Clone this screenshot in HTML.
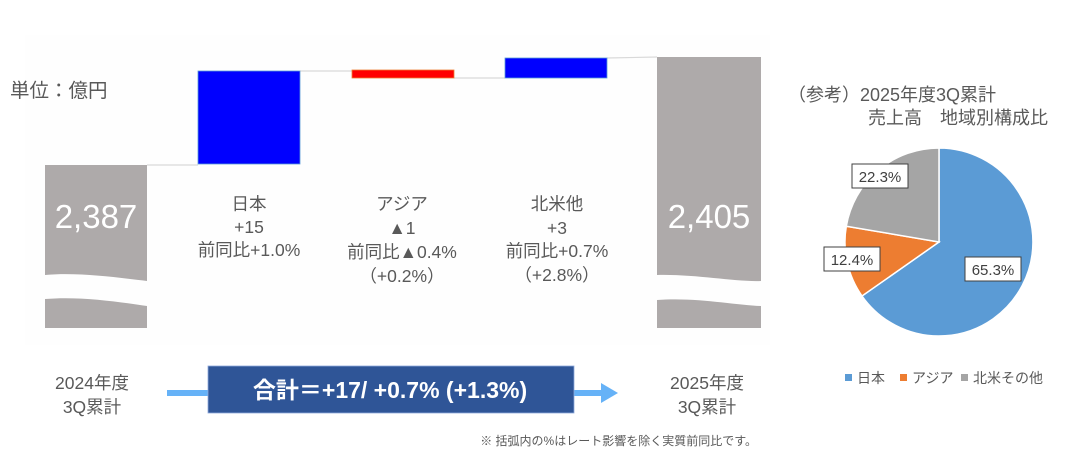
<!DOCTYPE html>
<html><head><meta charset="utf-8"><style>
body{margin:0;width:1080px;height:455px;background:#fff;overflow:hidden;}
svg text{font-family:"Liberation Sans","Noto Sans CJK JP",sans-serif;}
</style></head><body>
<svg width="1080" height="455" viewBox="0 0 1080 455">
<rect x="25" y="35" width="745" height="310" fill="#fefefe"/>
<g stroke="#d9d9d9" stroke-width="1.2">
<line x1="147" y1="165" x2="198" y2="165"/>
<line x1="300" y1="71" x2="352" y2="71"/>
<line x1="454" y1="78" x2="505" y2="78"/>
<line x1="607" y1="58" x2="657" y2="57"/>
</g>
<path d="M45 165 H147 V281 C120 278 80 272 45 275 Z" fill="#aeaaaa"/>
<path d="M45 299 C80 296 120 302 147 306 V328 H45 Z" fill="#aeaaaa"/>
<path d="M657 57 H761 V281 C735 282 695 274 657 275 Z" fill="#aeaaaa"/>
<path d="M657 300 C695 297 735 305 761 306 V328 H657 Z" fill="#aeaaaa"/>
<text x="96" y="228" font-size="33" fill="#fff" text-anchor="middle">2,387</text>
<text x="709" y="228" font-size="33" fill="#fff" text-anchor="middle">2,405</text>
<rect x="198" y="71" width="102" height="93" fill="#0000ff" stroke="#5b9bd5" stroke-width="0.8"/>
<rect x="352" y="70" width="102" height="8" fill="#ff0000" stroke="#ed7d31" stroke-width="0.8"/>
<rect x="505" y="58" width="102" height="20" fill="#0000ff" stroke="#5b9bd5" stroke-width="0.8"/>
<text x="10" y="97" font-size="19.5" fill="#595959">単位：億円</text>
<g font-size="17.5" fill="#595959" text-anchor="middle">
<text x="249" y="210">日本</text><text x="249" y="233">+15</text><text x="249" y="256">前同比+1.0%</text>
<text x="402" y="210">アジア</text><text x="402" y="234">▲1</text><text x="402" y="258">前同比▲0.4%</text><text x="402" y="282">（+0.2%）</text>
<text x="557" y="210">北米他</text><text x="557" y="234">+3</text><text x="557" y="257">前同比+0.7%</text><text x="557" y="281">（+2.8%）</text>
<text x="92" y="389">2024年度</text><text x="92" y="413">3Q累計</text>
<text x="707" y="389">2025年度</text><text x="707" y="413">3Q累計</text>
</g>
<rect x="167" y="390" width="42" height="6" fill="#66b2f7"/>
<rect x="573" y="390" width="30" height="6" fill="#66b2f7"/>
<polygon points="601,383 618,393 601,403" fill="#66b2f7"/>
<rect x="208" y="366" width="366" height="47" fill="#2f5597" stroke="#8faadc" stroke-width="0.8"/>
<text x="390" y="398" font-size="23" font-weight="bold" fill="#fff" text-anchor="middle">合計＝+17/ +0.7% (+1.3%)</text>
<text x="757" y="445" font-size="12" fill="#595959" text-anchor="end">※ 括弧内の%はレート影響を除く実質前同比です。</text>
<text x="788" y="101" font-size="18" fill="#595959">（参考）2025年度3Q累計</text>
<text x="868" y="124" font-size="18" fill="#595959">売上高　地域別構成比</text>
<g stroke="#fff" stroke-width="1.5">
<path d="M939 242 L939 148 A94 94 0 1 1 862 296 Z" fill="#5b9bd5"/>
<path d="M939 242 L862 296 A94 94 0 0 1 846.3 226.2 Z" fill="#ed7d31"/>
<path d="M939 242 L846.3 226.2 A94 94 0 0 1 939 148 Z" fill="#a5a5a5"/>
</g>
<g font-size="15" fill="#404040">
<rect x="852" y="164" width="56" height="24" fill="#fff" stroke="#404040"/><text x="880" y="182" text-anchor="middle">22.3%</text>
<rect x="824" y="247" width="56" height="24" fill="#fff" stroke="#404040"/><text x="852" y="265" text-anchor="middle">12.4%</text>
<rect x="965" y="257" width="56" height="24" fill="#fff" stroke="#404040"/><text x="993" y="275" text-anchor="middle">65.3%</text>
</g>
<g font-size="14" fill="#595959">
<rect x="845" y="374" width="7" height="7" fill="#5b9bd5"/><text x="857" y="383">日本</text>
<rect x="900" y="374" width="7" height="7" fill="#ed7d31"/><text x="912" y="383">アジア</text>
<rect x="961" y="374" width="7" height="7" fill="#a5a5a5"/><text x="973" y="383">北米その他</text>
</g>
</svg>
</body></html>
